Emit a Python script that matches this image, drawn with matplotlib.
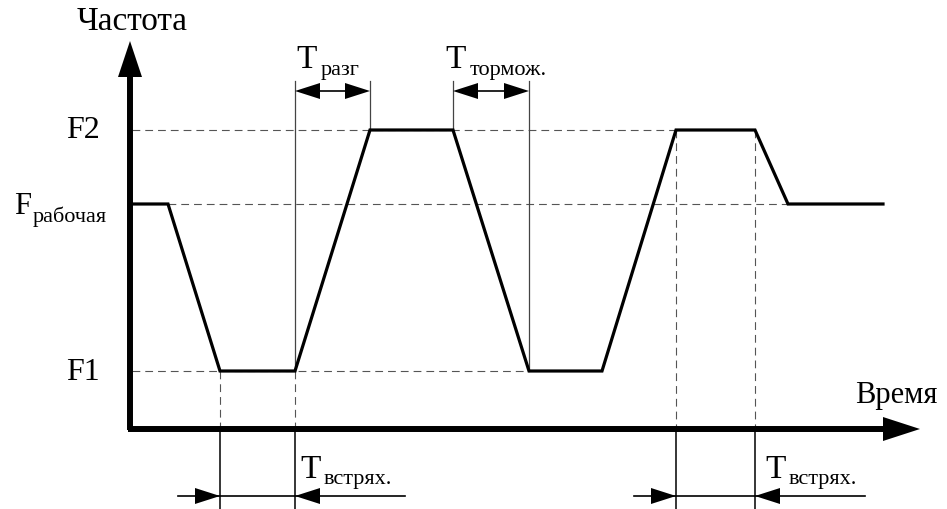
import numpy as np
import matplotlib
matplotlib.use('Agg')
import matplotlib.pyplot as plt

plt.rcParams['font.family'] = ['Liberation Serif', 'DejaVu Serif']

# уровни частоты (условные единицы)
F1 = 58
F_RAB = 225
F2 = 299

# моменты времени и частота в них
t = [0, 38, 90, 165, 240, 323, 399, 472, 546, 625, 658, 753]
f = [F_RAB, F_RAB, F1, F1, F2, F2, F1, F1, F2, F2, F_RAB, F_RAB]

# интервалы разгона/торможения (сверху) и встряхивания (снизу)
top_spans = [(165, 240), (323, 399)]
top_subs = ['разг', 'тормож.']
top_text_x = [166, 315]
bottom_spans = [(90, 165), (546, 625)]
bottom_text_x = [170, 635]

T_MAX = 790     # конец оси времени
F_MAX = 388     # конец оси частоты
DIM_Y = 338     # высота верхних размерных стрелок
BOT_Y = -67     # высота нижних размерных стрелок

fig = plt.figure(figsize=(9.47, 5.1), dpi=100)
ax = fig.add_axes([0, 0, 1, 1])
ax.set_xlim(-130, 817)
ax.set_ylim(-80, 430)
ax.axis('off')


def head(x, y, dx, dy, length, width):
    """залитый треугольник-наконечник с вершиной в (x, y)"""
    n = np.hypot(dx, dy)
    ux, uy = dx / n, dy / n
    bx, by = x - ux * length, y - uy * length
    px, py = -uy * width / 2, ux * width / 2
    ax.fill([x, bx + px, bx - px], [y, by + py, by - py], color='black', lw=0, zorder=5)


dash = dict(color='#555555', lw=0.8, dashes=(7, 4.5))
thin = dict(color='#444444', lw=0.9)

# пунктирные уровни
ax.plot([2, bottom_spans[1][0]], [F2, F2], **dash)
ax.plot([t[1], t[10]], [F_RAB, F_RAB], **dash)
ax.plot([2, t[6]], [F1, F1], **dash)

# пунктир вниз к оси времени
for a, b in bottom_spans:
    lvl = f[t.index(a)]
    ax.plot([a, a], [lvl, 0], **dash)
    ax.plot([b, b], [lvl, 0], **dash)
    ax.plot([a, a], [0, -80], color='black', lw=1.1)
    ax.plot([b, b], [0, -80], color='black', lw=1.1)

# тонкие вертикали для интервалов разгона/торможения
for a, b in top_spans:
    ax.plot([a, a], [f[t.index(a)], DIM_Y + 10], **thin)
    ax.plot([b, b], [f[t.index(b)], DIM_Y + 10], **thin)

# график частоты
ax.plot(t, f, color='black', lw=2.3, solid_joinstyle='miter', zorder=4)

# оси
ax.plot([0, 0], [-1, F_MAX - 30], color='black', lw=4.3, solid_capstyle='butt', zorder=6)
ax.plot([-2, T_MAX - 30], [0, 0], color='black', lw=4.3, solid_capstyle='butt', zorder=6)
head(0, F_MAX, 0, 1, 36, 24)
head(T_MAX, 0, 1, 0, 37, 24)

# верхние размерные стрелки
for (a, b), sub, tx in zip(top_spans, top_subs, top_text_x):
    ax.plot([a + 20, b - 20], [DIM_Y, DIM_Y], color='black', lw=1.2)
    head(a, DIM_Y, -1, 0, 25, 16)
    head(b, DIM_Y, 1, 0, 25, 16)
    ax.text(tx, 362, 'T', fontsize=24, va='baseline', ha='left')
    ax.text(tx + 25, 355, sub, fontsize=16, va='baseline', ha='left')

# нижние размерные стрелки
for (a, b), tx in zip(bottom_spans, bottom_text_x):
    ax.plot([a - 42, b + 110], [BOT_Y, BOT_Y], color='black', lw=1.2)
    head(a, BOT_Y, 1, 0, 25, 16)
    head(b, BOT_Y, -1, 0, 25, 16)
    ax.text(tx, -48, 'T', fontsize=24, va='baseline', ha='left')
    ax.text(tx + 24, -54, 'встрях.', fontsize=16, va='baseline', ha='left')

# подписи
ax.text(2, 400, 'Частота', fontsize=24, ha='center', va='baseline')
ax.text(807, 27, 'Время', fontsize=22, ha='right', va='baseline')
ax.text(-30, F2, 'F2', fontsize=23, ha='right', va='center')
ax.text(-30, F1, 'F1', fontsize=23, ha='right', va='center')
ax.text(-116, 216, 'F', fontsize=22, ha='left', va='baseline')
ax.text(-97, 208, 'рабочая', fontsize=16, ha='left', va='baseline')

fig.savefig('out.png', dpi=100)
